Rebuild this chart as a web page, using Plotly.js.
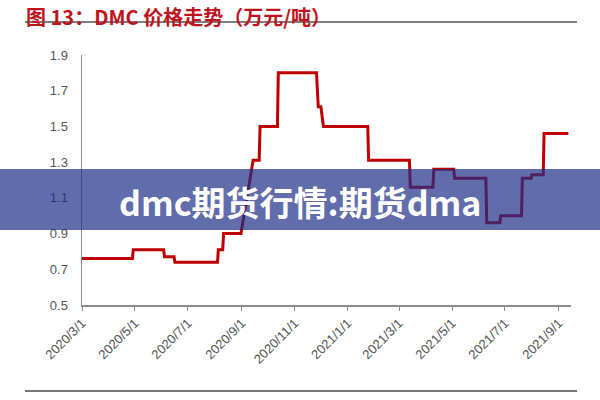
<!DOCTYPE html>
<html>
<head>
<meta charset="utf-8">
<script src="https://cdn.plot.ly/plotly-3.0.1.min.js"></script>
<style>
  html, body { margin: 0; padding: 0; background: #fff; }
  #chart { width: 600px; height: 400px; }
</style>
</head>
<body>
<div id="chart"></div>
<script>
// DMC price, change points (万元/吨)
const priceDates = [
  "2020-03-01", "2020-04-28", "2020-04-29", "2020-06-03", "2020-06-04",
  "2020-06-15", "2020-06-16", "2020-08-04", "2020-08-05", "2020-08-10",
  "2020-08-11", "2020-08-31", "2020-09-14", "2020-09-21", "2020-09-22",
  "2020-10-12", "2020-10-13", "2020-11-26", "2020-11-28", "2020-12-01",
  "2020-12-04", "2021-01-24", "2021-01-25", "2021-03-13", "2021-03-14",
  "2021-04-09", "2021-04-10", "2021-05-03", "2021-05-04", "2021-06-09",
  "2021-06-10", "2021-06-25", "2021-06-26", "2021-07-20", "2021-07-21",
  "2021-07-31", "2021-08-01", "2021-08-14", "2021-08-15", "2021-09-12"
];
const priceValues = [
  0.76, 0.76, 0.81, 0.81, 0.77,
  0.77, 0.74, 0.74, 0.81, 0.81,
  0.90, 0.90, 1.31, 1.31, 1.50,
  1.50, 1.80, 1.80, 1.61, 1.61,
  1.50, 1.50, 1.31, 1.31, 1.16,
  1.16, 1.26, 1.26, 1.21, 1.21,
  0.96, 0.96, 1.00, 1.00, 1.21,
  1.21, 1.23, 1.23, 1.46, 1.46
];

const tickDates = [
  "2020-03-01", "2020-05-01", "2020-07-01", "2020-09-01", "2020-11-01",
  "2021-01-01", "2021-03-01", "2021-05-01", "2021-07-01", "2021-09-01"
];
const tickLabels = [
  "2020/3/1", "2020/5/1", "2020/7/1", "2020/9/1", "2020/11/1",
  "2021/1/1", "2021/3/1", "2021/5/1", "2021/7/1", "2021/9/1"
];
const yTicks = [0.5, 0.7, 0.9, 1.1, 1.3, 1.5, 1.7, 1.9];

const titleText = "图 13：DMC 价格走势（万元/吨）";
const bannerText = "dmc期货行情:期货dma";

// plot box in pixels, used to place the page furniture
const M = {l: 82, r: 29, t: 55, b: 95};
const W = 600, H = 400;
const pw = W - M.l - M.r, ph = H - M.t - M.b;
const px = x => (x - M.l) / pw;
const py = y => (H - M.b - y) / ph;

let price = {
  x: priceDates,
  y: priceValues,
  type: "scatter",
  mode: "lines",
  line: {color: "#c00000", width: 3},
  hoverinfo: "x+y",
  showlegend: false,
};

let layout = {
  width: W,
  height: H,
  margin: M,
  paper_bgcolor: "#ffffff",
  plot_bgcolor: "#ffffff",
  font: {family: "Liberation Sans, Arial, sans-serif", color: "#555555", size: 13},
  xaxis: {
    type: "date",
    range: ["2020-03-01", "2021-09-15"],
    tickvals: tickDates,
    ticktext: tickLabels,
    tickangle: -45,
    ticks: "outside",
    ticklen: 4,
    tickcolor: "#8c8c8c",
    showline: true,
    linecolor: "#8c8c8c",
    linewidth: 1.5,
    showgrid: false,
    zeroline: false,
    tickfont: {size: 13, color: "#555555"},
  },
  yaxis: {
    range: [0.5, 1.9],
    tickvals: yTicks,
    ticktext: yTicks.map(v => v.toFixed(1)),
    ticks: "",
    ticklabelstandoff: 10,
    showline: true,
    linecolor: "#8c8c8c",
    linewidth: 1.5,
    showgrid: false,
    zeroline: false,
    tickfont: {size: 13, color: "#555555"},
  },
  shapes: [
    {type: "line", xref: "paper", yref: "paper",
     x0: px(25), x1: px(577), y0: py(22), y1: py(22),
     line: {color: "#555555", width: 1.5}},
    {type: "line", xref: "paper", yref: "paper",
     x0: px(25), x1: px(577), y0: py(391), y1: py(391),
     line: {color: "#777777", width: 2}},
    {type: "rect", xref: "paper", yref: "paper", layer: "above",
     x0: px(-2), x1: px(602), y0: py(230), y1: py(169),
     fillcolor: "rgba(30,45,135,0.7)", line: {width: 0}},
  ],
  annotations: [
    {text: titleText, xref: "paper", yref: "paper",
     x: px(24), y: py(0), xanchor: "left", yanchor: "top",
     showarrow: false,
     font: {family: "Noto Sans CJK SC", size: 20, color: "#c0141c", weight: "bold"}},
    {text: "<b>" + bannerText + "</b>", xref: "paper", yref: "paper",
     x: px(300), y: py(201), xanchor: "center", yanchor: "middle",
     showarrow: false,
     font: {family: "Noto Sans CJK SC", size: 34, color: "#ffffff"}},
  ],
};

Plotly.newPlot("chart", [price], layout, {
  displaylogo: false,
  displayModeBar: false,
  staticPlot: true,
});
</script>
</body>
</html>
